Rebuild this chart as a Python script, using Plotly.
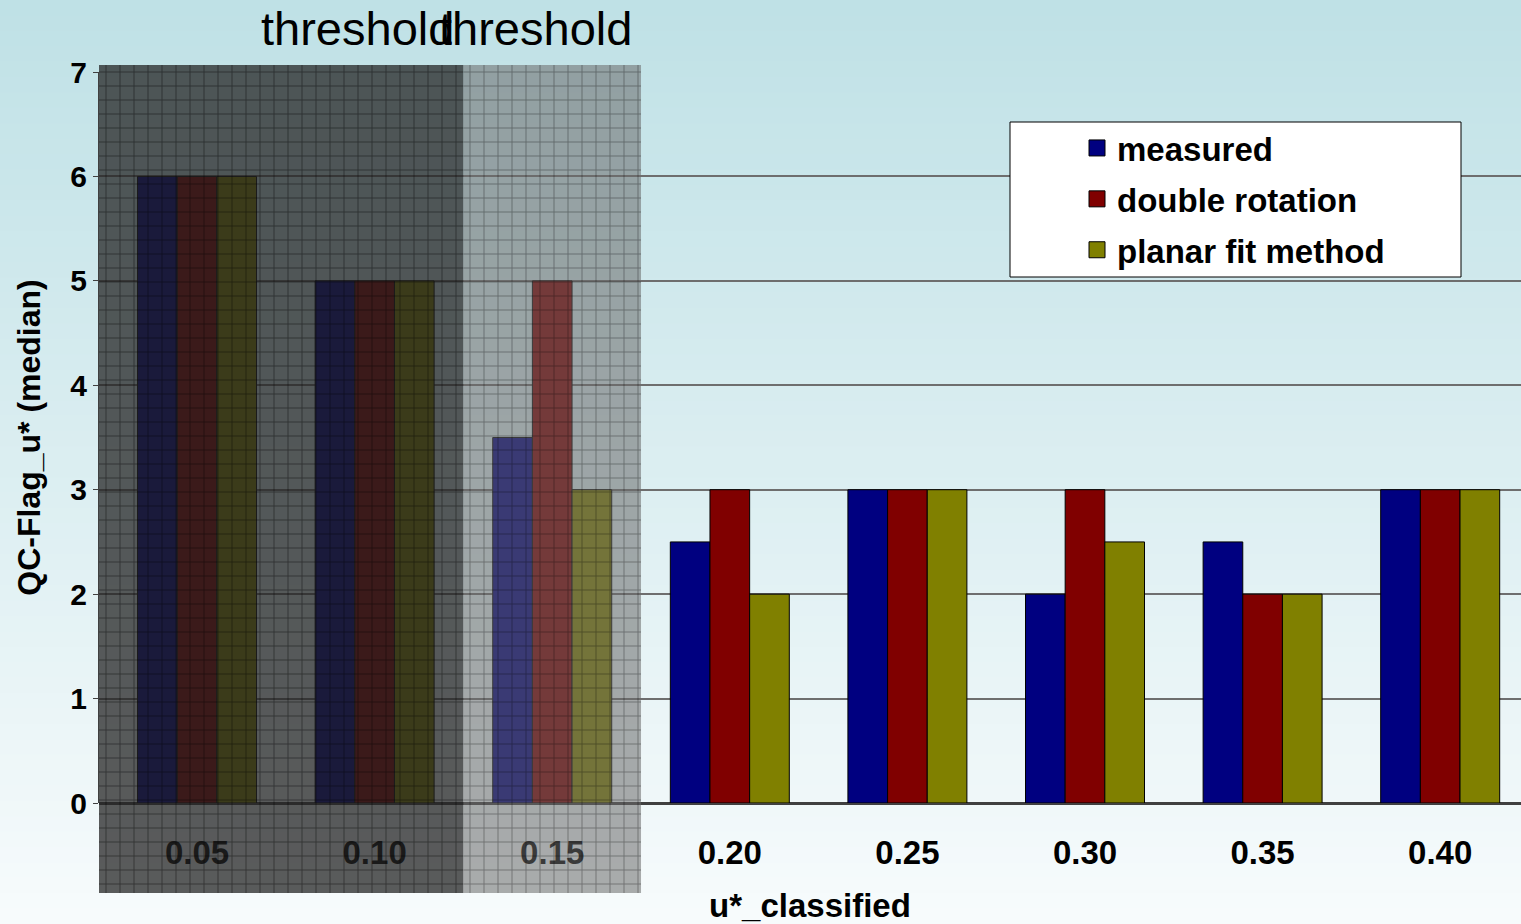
import plotly.graph_objects as go

# ---- data ----
categories = ["0.05", "0.10", "0.15", "0.20", "0.25", "0.30", "0.35", "0.40"]
measured = [6, 5, 3.5, 2.5, 3, 2, 2.5, 3]
double_rotation = [6, 5, 5, 3, 3, 3, 2, 3]
planar_fit = [6, 5, 3, 2, 3, 2.5, 2, 3]
series_names = ["measured", "double rotation", "planar fit method"]
series_colors = ["#000080", "#800000", "#808000"]
y_ticks = [0, 1, 2, 3, 4, 5, 6, 7]
threshold_labels = ["threshold", "threshold"]
dark_cats = ["0.05", "0.10"]
light_cats = ["0.15"]

# ---- layout geometry (pixels) ----
W, H = 1521, 924
ML, MR, MT, MB = 99, 0, 65, 31
plot_top_px, plot_bot_px = 72, 803
pw, ph = W - ML - MR, H - MT - MB

def py(p):  # pixel y -> paper y
    return (H - MB - p) / ph

def px(p):  # pixel x -> paper x
    return (p - ML) / pw

x_lo, x_hi = -0.552, 7.455
y_lo, y_hi = 0, 7
unit_px = (plot_bot_px - plot_top_px) / (y_hi - y_lo)
y2_lo = y_lo - (H - MB - plot_bot_px) / unit_px
y2_hi = y_hi + (plot_top_px - MT) / unit_px

xs = list(range(len(categories)))
font_fam = "Liberation Sans, Arial, sans-serif"

fig = go.Figure()
for name, vals, col in zip(series_names, [measured, double_rotation, planar_fit], series_colors):
    fig.add_trace(go.Bar(x=xs, y=vals, name=name, marker=dict(color=col, line=dict(color="black", width=1)),
                         showlegend=False))
    fig.add_trace(go.Scatter(x=[None], y=[None], mode="markers", name=name, legendgroup=name,
                             marker=dict(symbol="square", size=20, color=col, line=dict(color="black", width=1))))

# shaded regions drawn on overlay axes spanning the whole paper
def region(cats, start_lo=False):
    idx = [categories.index(c) for c in cats]
    a = min(idx) - 0.5
    if start_lo:
        a = x_lo
    b = max(idx) + 0.5
    return [a, b, b, a, a], [y2_lo, y2_lo, y2_hi, y2_hi, y2_lo]

rx, ry = region(dark_cats, start_lo=True)
fig.add_trace(go.Scatter(x=rx, y=ry, xaxis="x2", yaxis="y2", fill="toself", mode="lines",
                         line=dict(width=0), showlegend=False, hoverinfo="skip",
                         fillcolor="rgba(35,35,35,0.74)",
                         fillpattern=dict(shape="+", fgcolor="rgba(0,0,0,0.9)", bgcolor="rgba(35,35,35,0.74)",
                                          size=14, solidity=0.12)))
rx, ry = region(light_cats)
fig.add_trace(go.Scatter(x=rx, y=ry, xaxis="x2", yaxis="y2", fill="toself", mode="lines",
                         line=dict(width=0), showlegend=False, hoverinfo="skip",
                         fillcolor="rgba(105,105,105,0.55)",
                         fillpattern=dict(shape="+", fgcolor="rgba(0,0,0,0.7)", bgcolor="rgba(105,105,105,0.55)",
                                          size=14, solidity=0.12)))

# background gradient bands
shapes = []
top_c = (191, 225, 230)
bot_c = (247, 251, 252)
n = 60
for i in range(n):
    t = i / (n - 1)
    c = tuple(round(top_c[k] + (bot_c[k] - top_c[k]) * t) for k in range(3))
    y0p = H * i / n
    y1p = H * (i + 1) / n + 1
    shapes.append(dict(type="rect", xref="paper", yref="paper", layer="below",
                       x0=px(0), x1=px(W), y0=py(y1p), y1=py(y0p),
                       line=dict(width=0), fillcolor="rgb(%d,%d,%d)" % c))
# legend box
shapes.append(dict(type="rect", xref="paper", yref="paper", layer="above",
                   x0=px(1010), x1=px(1461), y0=py(277), y1=py(122),
                   line=dict(color="black", width=1), fillcolor="white"))

annotations = []
for lab, cx in zip(threshold_labels, [357, 535]):
    annotations.append(dict(text=lab, xref="paper", yref="paper", x=px(cx), y=py(28),
                            xanchor="center", yanchor="middle", showarrow=False,
                            font=dict(family=font_fam, size=47, color="black", weight="normal")))

fig.update_layout(
    width=W, height=H,
    margin=dict(l=ML, r=MR, t=MT, b=MB),
    paper_bgcolor="rgba(0,0,0,0)", plot_bgcolor="rgba(0,0,0,0)",
    barmode="group", bargap=0.33, bargroupgap=0,
    shapes=shapes, annotations=annotations,
    font=dict(family=font_fam, color="black", weight="bold"),
    xaxis=dict(range=[x_lo, x_hi], tickvals=xs, ticktext=categories, showgrid=False, zeroline=False,
               showline=False, ticks="", ticklabelstandoff=27,
               tickfont=dict(size=33, family=font_fam, weight="bold"),
               title=dict(text="u*_classified", font=dict(size=33, family=font_fam, weight="bold"), standoff=24),
               anchor="y", fixedrange=True),
    yaxis=dict(range=[y_lo, y_hi], tickvals=y_ticks, domain=[py(plot_bot_px), py(plot_top_px)],
               showgrid=True, gridcolor="#6e6e6e", gridwidth=1.5,
               zeroline=True, zerolinecolor="#404040", zerolinewidth=2.5,
               showline=True, linecolor="#404040", linewidth=1, ticks="outside", ticklen=5, tickcolor="#404040",
               tickfont=dict(size=30, family=font_fam, weight="bold"),
               title=dict(text="QC-Flag_u* (median)", font=dict(size=32, family=font_fam, weight="bold"), standoff=20),
               anchor="x", fixedrange=True),
    xaxis2=dict(range=[x_lo, x_hi], domain=[0, 1], anchor="y2", visible=False, fixedrange=True),
    yaxis2=dict(range=[y2_lo, y2_hi], domain=[0, 1], anchor="x2", visible=False, fixedrange=True),
    legend=dict(x=px(1077), y=py(120), xanchor="left", yanchor="top", bgcolor="rgba(0,0,0,0)",
                borderwidth=0, font=dict(size=33, family=font_fam, weight="bold", color="black"),
                tracegroupgap=5, itemsizing="trace"),
    showlegend=True,
)

fig.write_html("out.html")
